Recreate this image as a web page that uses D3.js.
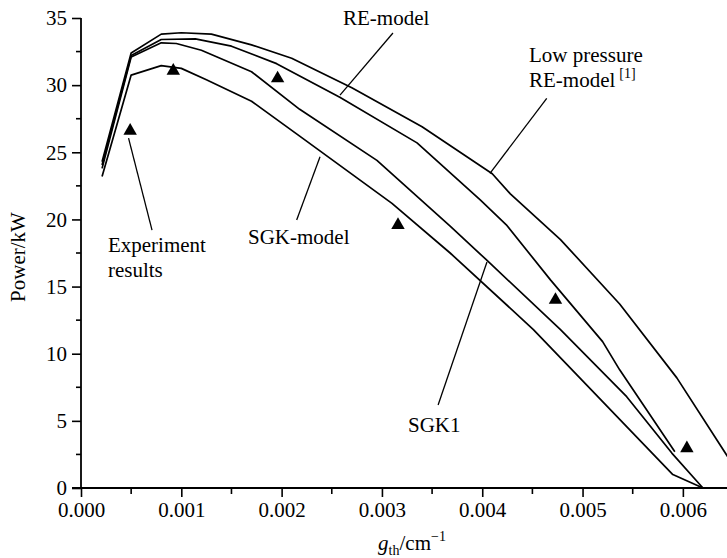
<!DOCTYPE html>
<html>
<head>
<meta charset="utf-8">
<script src="https://cdn.jsdelivr.net/npm/d3@7/dist/d3.min.js"></script>
<style>
  html, body { margin: 0; padding: 0; background: #fff; }
  svg { display: block; }
  text { font-family: "Liberation Serif", "Times New Roman", Times, serif; fill: #000; }
</style>
</head>
<body>
<svg id="chart" width="727" height="558"></svg>
<script>
// ---- data (x: g_th in cm^-1, y: power in kW) ----
const lowPressureRE_x = [0.00021, 0.0005, 0.0008, 0.0010, 0.0013, 0.0017, 0.0021, 0.0027, 0.0034, 0.0041, 0.00428, 0.00478, 0.00537, 0.00594, 0.00645];
const lowPressureRE_y = [24.3, 32.4, 33.8, 33.9, 33.8, 33.0, 32.0, 29.8, 26.9, 23.4, 21.9, 18.5, 13.7, 8.2, 2.3];

const reModel_x = [0.00021, 0.0005, 0.0008, 0.00114, 0.0015, 0.00195, 0.00258, 0.00335, 0.00398, 0.00424, 0.00468, 0.0052, 0.00537, 0.00592];
const reModel_y = [24.05, 32.2, 33.4, 33.45, 32.9, 31.6, 29.1, 25.7, 21.45, 19.6, 15.5, 10.9, 8.8, 2.7];

const sgk1_x = [0.00021, 0.0005, 0.0008, 0.00095, 0.0012, 0.0017, 0.00218, 0.00295, 0.00368, 0.00404, 0.00478, 0.00544, 0.00589, 0.0062];
const sgk1_y = [23.8, 32.1, 33.15, 33.1, 32.6, 31.0, 28.2, 24.4, 19.5, 17.0, 11.8, 6.8, 2.6, 0];

const sgkModel_x = [0.00021, 0.0005, 0.0008, 0.0010, 0.00125, 0.0017, 0.00218, 0.0031, 0.00368, 0.00451, 0.0059, 0.0062];
const sgkModel_y = [23.2, 30.75, 31.45, 31.25, 30.4, 28.8, 26.2, 21.2, 17.5, 11.8, 1.0, 0];

const experiment_x = [0.00049, 0.00092, 0.00196, 0.00316, 0.00473, 0.00604];
const experiment_y = [26.6, 31.07, 30.5, 19.58, 14.0, 2.96];

const xTicks = [0, 0.001, 0.002, 0.003, 0.004, 0.005, 0.006];
const xTickLabels = ["0.000", "0.001", "0.002", "0.003", "0.004", "0.005", "0.006"];
const xMinorTicks = [0.0005, 0.0015, 0.0025, 0.0035, 0.0045, 0.0055];
const yTicks = [0, 5, 10, 15, 20, 25, 30, 35];
const yMinorTicks = [2.5, 7.5, 12.5, 17.5, 22.5, 27.5, 32.5];

// annotations in data coordinates
const annotations = [
  { lines: ["RE-model"], tx: 0.002612, ty: 34.47, p1: [0.00311, 33.88], p2: [0.002582, 29.26] },
  { lines: ["Low pressure", "RE-model"], sup: "[1]", tx: 0.004466, ty: 31.72, p1: [0.004643, 29.02], p2: [0.004077, 23.43] },
  { lines: ["Experiment", "results"], tx: 0.000269, ty: 17.57, p1: [0.000474, 26.06], p2: [0.000708, 19.21] },
  { lines: ["SGK-model"], tx: 0.001665, ty: 18.17, p1: [0.002383, 24.67], p2: [0.00215, 19.96] },
  { lines: ["SGK1"], tx: 0.00326, ty: 4.17, p1: [0.00356, 6.18], p2: [0.004047, 16.83] }
];

// ---- drawing ----
const svg = d3.select("#chart");
const x = d3.scaleLinear().domain([0, 0.00644]).range([81, 727]);
const y = d3.scaleLinear().domain([0, 35]).range([488, 18]);
const FS = 21;

const series = [
  [lowPressureRE_x, lowPressureRE_y],
  [reModel_x, reModel_y],
  [sgk1_x, sgk1_y],
  [sgkModel_x, sgkModel_y]
];

svg.append("clipPath").attr("id", "clip")
  .append("rect").attr("x", 81).attr("y", 0).attr("width", 646).attr("height", 490);

const line = d3.line().x(d => x(d[0])).y(d => y(d[1]));
const gLines = svg.append("g").attr("clip-path", "url(#clip)");
series.forEach(([xs, ys]) => {
  gLines.append("path")
    .datum(xs.map((v, i) => [v, ys[i]]))
    .attr("d", line)
    .attr("fill", "none")
    .attr("stroke", "#000")
    .attr("stroke-width", 1.7)
    .attr("stroke-linejoin", "round");
});

// experiment triangles
svg.append("g").selectAll("path")
  .data(experiment_x.map((v, i) => [v, experiment_y[i]]))
  .join("path")
  .attr("transform", d => `translate(${x(d[0])},${y(d[1])})`)
  .attr("d", d3.symbol(d3.symbolTriangle, 78))
  .attr("fill", "#000");

// axes
const xAxis = svg.append("g").attr("transform", `translate(0,${y(0)})`)
  .call(d3.axisBottom(x).tickValues(xTicks).tickSize(9).tickSizeOuter(0)
    .tickFormat((d, i) => xTickLabels[i]));
xAxis.select(".domain").remove();
xAxis.append("line").attr("x1", 72).attr("x2", 727).attr("y1", 0).attr("y2", 0)
  .attr("stroke", "#000").attr("stroke-width", 1.8);
xAxis.selectAll(".tick line").attr("stroke-width", 1.6);
xAxis.selectAll(".tick text").attr("font-size", FS).attr("dy", "0.85em").attr("y", 11);
xAxis.selectAll(".minor").data(xMinorTicks).join("line")
  .attr("x1", d => x(d)).attr("x2", d => x(d)).attr("y1", 0).attr("y2", 6)
  .attr("stroke", "#000").attr("stroke-width", 1.6);

const yAxis = svg.append("g").attr("transform", `translate(${x(0)},0)`)
  .call(d3.axisLeft(y).tickValues(yTicks).tickSize(9).tickSizeOuter(0).tickFormat(d3.format("d")));
yAxis.select(".domain").attr("stroke-width", 1.8).attr("d", `M0,${y(35)}V${y(0)}`);
yAxis.selectAll(".tick line").attr("stroke-width", 1.6);
yAxis.selectAll(".tick text").attr("font-size", FS).attr("x", -14);
yAxis.selectAll(".minor").data(yMinorTicks).join("line")
  .attr("x1", -5).attr("x2", 0).attr("y1", d => y(d)).attr("y2", d => y(d))
  .attr("stroke", "#000").attr("stroke-width", 1.6);
svg.selectAll("g").attr("font-family", null);

// axis titles
svg.append("text")
  .attr("transform", `translate(25,257) rotate(-90)`)
  .attr("text-anchor", "middle").attr("font-size", FS)
  .text("Power/kW");

const xt = svg.append("text").attr("x", 412).attr("y", 550)
  .attr("text-anchor", "middle").attr("font-size", FS);
xt.append("tspan").attr("font-style", "italic").text("g");
xt.append("tspan").attr("font-size", 14).attr("dy", 5).text("th");
xt.append("tspan").attr("dy", -5).text("/cm");
xt.append("tspan").attr("font-size", 14).attr("dy", -9).text("−1");

// annotations
const gAnn = svg.append("g");
annotations.forEach(a => {
  gAnn.append("line")
    .attr("x1", x(a.p1[0])).attr("y1", y(a.p1[1]))
    .attr("x2", x(a.p2[0])).attr("y2", y(a.p2[1]))
    .attr("stroke", "#000").attr("stroke-width", 1.3);
  a.lines.forEach((t, i) => {
    const tx = gAnn.append("text")
      .attr("x", x(a.tx)).attr("y", y(a.ty) + i * 25)
      .attr("font-size", FS).text(t);
    if (a.sup && i === a.lines.length - 1) {
      tx.append("tspan").attr("font-size", 14).attr("dy", -9).attr("dx", 4).text(a.sup);
    }
  });
});
</script>
</body>
</html>
